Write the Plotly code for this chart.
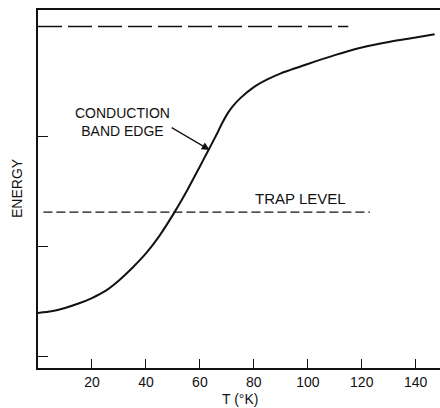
import plotly.graph_objects as go

# Data
temperature = [0, 5, 10, 15, 20, 25, 30, 35, 40, 45, 50, 55, 60, 63, 66, 68, 70, 72,
               75, 80, 85, 90, 100, 110, 120, 130, 140, 147]
band_edge = [0.40, 0.415, 0.445, 0.485, 0.535, 0.60, 0.695, 0.81, 0.94, 1.10, 1.29, 1.50,
             1.73, 1.87, 2.01, 2.11, 2.20, 2.27, 2.35, 2.45, 2.52, 2.575, 2.66, 2.74,
             2.81, 2.86, 2.90, 2.93]
upper_level_T = [0, 115]
upper_level_E = [3.0, 3.0]
trap_level_T = [2, 123]
trap_level_E = [1.315, 1.315]
x_ticks = [20, 40, 60, 80, 100, 120, 140]
y_ticks = [0, 1, 2]

FONT = "Liberation Sans, Arial, sans-serif"
INK = "#111111"

fig = go.Figure()
fig.add_trace(go.Scatter(x=upper_level_T, y=upper_level_E, mode="lines",
                         line=dict(color=INK, width=1.4, dash="24px,6px"),
                         showlegend=False, hoverinfo="skip"))
fig.add_trace(go.Scatter(x=trap_level_T, y=trap_level_E, mode="lines",
                         line=dict(color=INK, width=1.4, dash="9px,4px"),
                         showlegend=False, hoverinfo="skip"))
fig.add_trace(go.Scatter(x=temperature, y=band_edge, mode="lines",
                         line=dict(color=INK, width=2, shape="spline", smoothing=0.6),
                         showlegend=False, hoverinfo="skip"))

fig.add_annotation(x=31.2, y=2.13, xref="x", yref="y", text="CONDUCTION<br>BAND EDGE",
                   showarrow=False, font=dict(family=FONT, size=14, color=INK))
fig.add_annotation(x=63.6, y=1.88, xref="x", yref="y", ax=49.0, ay=2.09,
                   axref="x", ayref="y", text="", showarrow=True,
                   arrowhead=2, arrowsize=1.3, arrowwidth=1.2, arrowcolor=INK)
fig.add_annotation(x=97.2, y=1.44, xref="x", yref="y", text="TRAP LEVEL",
                   showarrow=False, font=dict(family=FONT, size=15, color=INK))
fig.add_annotation(x=16.5, y=188.5, xref="paper", yref="paper", text="ENERGY",
                   textangle=-90, showarrow=False, xanchor="center", yanchor="middle",
                   borderpad=0, font=dict(family=FONT, size=14, color=INK))
fig.add_annotation(x=240, y=399, xref="paper", yref="paper", text="T (°K)",
                   showarrow=False, xanchor="center", yanchor="middle",
                   borderpad=0, font=dict(family=FONT, size=14, color=INK))

# convert pixel-placed labels to paper coords
W, H = 440, 408
ML, MR, MT, MB = 38, 0, 10, 40
pw, ph = W - ML - MR, H - MT - MB
for a in fig.layout.annotations:
    if a.xref == "paper":
        a.x = (a.x - ML) / pw
        a.y = 1 - (a.y - MT) / ph

fig.update_layout(
    width=W, height=H,
    margin=dict(l=ML, r=MR, t=MT, b=MB),
    paper_bgcolor="white", plot_bgcolor="white",
    font=dict(family=FONT, size=14, color=INK),
    xaxis=dict(range=[0, 149], tickvals=x_ticks, ticks="inside", ticklen=9,
               tickwidth=1.2, tickcolor=INK, showline=True, linecolor=INK,
               linewidth=1.5, mirror=True, showgrid=False, zeroline=False,
               tickfont=dict(family=FONT, size=14, color=INK)),
    yaxis=dict(range=[-0.1, 3.15], tickvals=y_ticks, ticks="inside", ticklen=10,
               tickwidth=1.2, tickcolor=INK, showticklabels=False, showline=True,
               linecolor=INK, linewidth=1.5, showgrid=False, zeroline=False),
)

fig.write_html("out.html", config={"displayModeBar": False},
               post_script="document.body.style.margin='0';")
